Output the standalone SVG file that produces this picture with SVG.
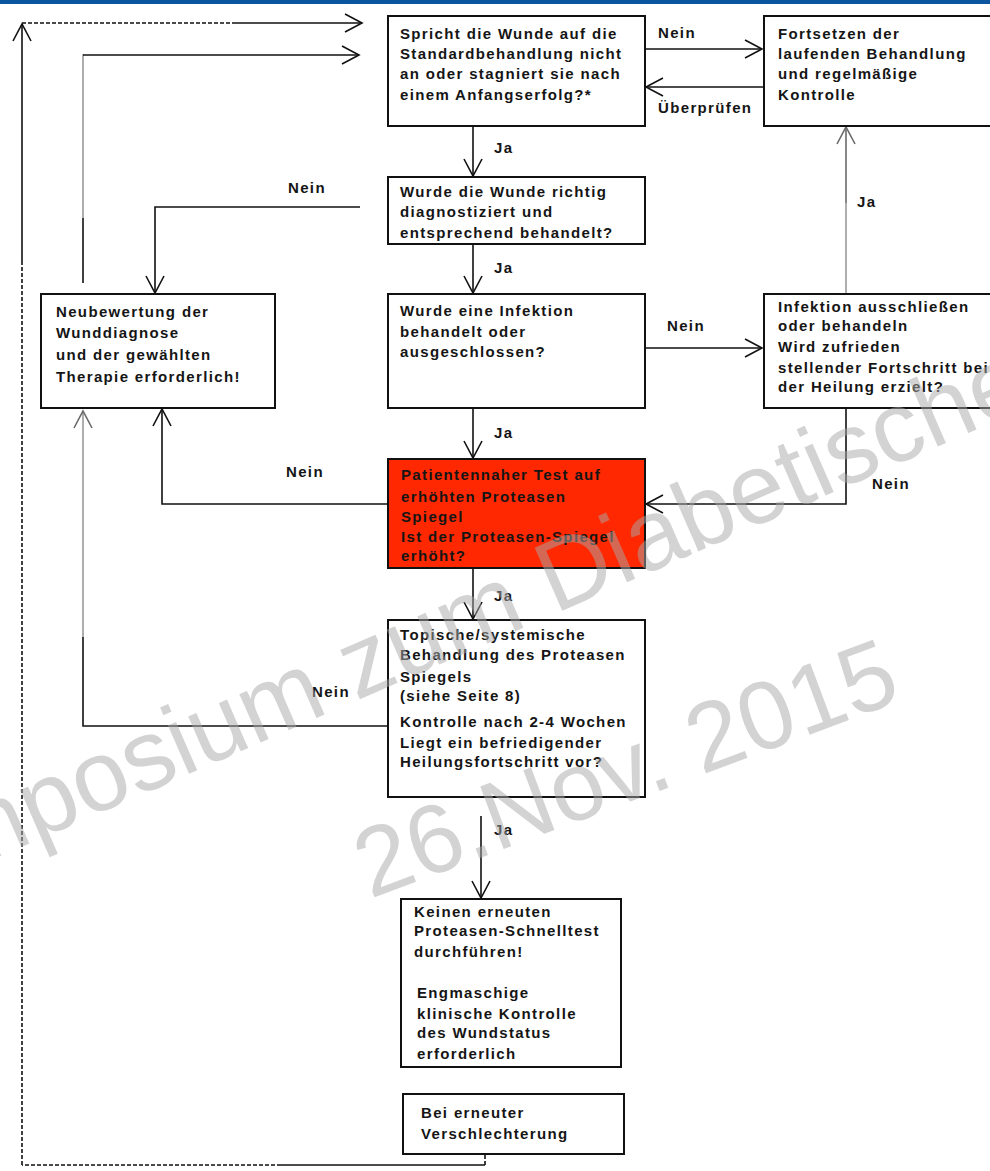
<svg xmlns="http://www.w3.org/2000/svg" width="990" height="1171" viewBox="0 0 990 1171">
  <style>
    .box { fill: #ffffff; stroke: #111111; stroke-width: 2; }
    .hot { fill: #ff2800; }
    .t { font-family: "Liberation Sans", Arial, sans-serif; font-weight: bold; font-size: 15px; letter-spacing: 1.35px; fill: #151515; }
    .ln { fill: none; stroke: #111111; stroke-width: 1.6; }
    .grey { stroke: #9a9a9a; }
    .mid { stroke: #6a6a6a; }
    .dash { fill: none; stroke: #111111; stroke-width: 1.6; stroke-dasharray: 4 2; }
    .wm { font-family: "Liberation Sans", Arial, sans-serif; fill: #a8a8a8; fill-opacity: 0.5; }
  </style>
  <defs>
    <marker id="arr" markerUnits="userSpaceOnUse" markerWidth="22" markerHeight="22" viewBox="-19 -11 22 22" refX="0" refY="0" orient="auto">
      <path d="M-17,-9 L0,0 L-17,9" fill="none" stroke="#111111" stroke-width="1.6"/>
    </marker>
    <marker id="arrGrey" markerUnits="userSpaceOnUse" markerWidth="22" markerHeight="22" viewBox="-19 -11 22 22" refX="0" refY="0" orient="auto">
      <path d="M-17,-9 L0,0 L-17,9" fill="none" stroke="#6a6a6a" stroke-width="1.6"/>
    </marker>
  </defs>

  <rect x="0" y="0" width="990" height="4" fill="#0b559e"/>

  <!-- connectors -->
  <g id="connectors">
    <!-- Spricht -> Fortsetzen (Nein) and back (Überprüfen) -->
    <line class="ln" x1="645" y1="49" x2="762" y2="49" marker-end="url(#arr)"/>
    <line class="ln" x1="764" y1="87" x2="646" y2="87" marker-end="url(#arr)"/>
    <!-- main column -->
    <line class="ln" x1="473" y1="126" x2="473" y2="176" marker-end="url(#arr)"/>
    <line class="ln" x1="473" y1="244" x2="473" y2="293" marker-end="url(#arr)"/>
    <line class="ln" x1="473" y1="408" x2="473" y2="458" marker-end="url(#arr)"/>
    <line class="ln" x1="473" y1="568" x2="473" y2="619" marker-end="url(#arr)"/>
    <line class="ln" x1="481" y1="816" x2="481" y2="898" marker-end="url(#arr)"/>
    <!-- Wurde ... richtig diagnostiziert -> Neubewertung (Nein) -->
    <polyline class="ln" points="360,207 155,207 155,293" marker-end="url(#arr)"/>
    <!-- Infektion -> Infektion ausschließen (Nein) -->
    <line class="ln" x1="645" y1="348" x2="762" y2="348" marker-end="url(#arr)"/>
    <!-- Infektion ausschließen -> Fortsetzen (Ja) -->
    <line class="ln grey" x1="846" y1="294" x2="846" y2="203"/>
    <line class="ln mid" x1="846" y1="203" x2="846" y2="127" marker-end="url(#arrGrey)"/>
    <!-- Infektion ausschließen -> Test (Nein) -->
    <polyline class="ln" points="846,372 846,504 646,504" marker-end="url(#arr)"/>
    <!-- Test -> Neubewertung (Nein) -->
    <polyline class="ln" points="387,504 162,504 162,409" marker-end="url(#arr)"/>
    <!-- Topische Behandlung -> Neubewertung (Nein) -->
    <polyline class="ln" points="387,726 83,726 83,637"/>
    <line class="ln grey" x1="83" y1="637" x2="83" y2="411" marker-end="url(#arrGrey)"/>
    <!-- Neubewertung -> Spricht -->
    <line class="ln" x1="83" y1="283" x2="83" y2="218"/>
    <polyline class="ln grey" points="83,218 83,55 84,55"/>
    <line class="ln" x1="83" y1="55" x2="359" y2="55" marker-end="url(#arr)"/>
    <!-- Bei erneuter Verschlechterung -> back to Spricht -->
    <line class="dash" x1="485" y1="1143" x2="485" y2="1165"/>
    <line class="ln" x1="485" y1="1165" x2="281" y2="1165"/>
    <line class="dash" x1="281" y1="1165" x2="22" y2="1165"/>
    <line class="dash" x1="22" y1="1165" x2="22" y2="262"/>
    <line class="ln" x1="22" y1="262" x2="22" y2="24" marker-end="url(#arr)"/>
    <line class="dash" x1="22" y1="23" x2="233" y2="23"/>
    <line class="ln" x1="233" y1="23" x2="362" y2="23" marker-end="url(#arr)"/>

    <!-- connector labels -->
    <text class="t" x="658" y="38">Nein</text>
    <text class="t" x="658" y="113">Überprüfen</text>
    <text class="t" x="494" y="153">Ja</text>
    <text class="t" x="494" y="273">Ja</text>
    <text class="t" x="288" y="193">Nein</text>
    <text class="t" x="667" y="331">Nein</text>
    <text class="t" x="857" y="207">Ja</text>
    <text class="t" x="494" y="438">Ja</text>
    <text class="t" x="286" y="477">Nein</text>
    <text class="t" x="872" y="489">Nein</text>
    <text class="t" x="494" y="601">Ja</text>
    <text class="t" x="312" y="697">Nein</text>
    <text class="t" x="494" y="835">Ja</text>
  </g>

  <!-- nodes -->
  <g id="spricht">
    <rect class="box" x="388" y="16" width="257" height="110"/>
    <text class="t" x="400" y="39">Spricht die Wunde auf die</text>
    <text class="t" x="400" y="59">Standardbehandlung nicht</text>
    <text class="t" x="400" y="79">an oder stagniert sie nach</text>
    <text class="t" x="400" y="100">einem Anfangserfolg?*</text>
  </g>

  <g id="fortsetzen">
    <rect class="box" x="764" y="16" width="232" height="110"/>
    <text class="t" x="778" y="39">Fortsetzen der</text>
    <text class="t" x="778" y="59">laufenden Behandlung</text>
    <text class="t" x="778" y="79">und regelmäßige</text>
    <text class="t" x="778" y="100">Kontrolle</text>
  </g>

  <g id="diagnose">
    <rect class="box" x="388" y="177" width="257" height="67"/>
    <text class="t" x="400" y="197">Wurde die Wunde richtig</text>
    <text class="t" x="400" y="217">diagnostiziert und</text>
    <text class="t" x="400" y="238">entsprechend behandelt?</text>
  </g>

  <g id="neubewertung">
    <rect class="box" x="41" y="294" width="234" height="114"/>
    <text class="t" x="56" y="317">Neubewertung der</text>
    <text class="t" x="56" y="338">Wunddiagnose</text>
    <text class="t" x="56" y="360">und der gewählten</text>
    <text class="t" x="56" y="382">Therapie erforderlich!</text>
  </g>

  <g id="infektion">
    <rect class="box" x="388" y="294" width="257" height="114"/>
    <text class="t" x="400" y="316">Wurde eine Infektion</text>
    <text class="t" x="400" y="337">behandelt oder</text>
    <text class="t" x="400" y="357">ausgeschlossen?</text>
  </g>

  <g id="infektion-ausschliessen">
    <rect class="box" x="764" y="294" width="232" height="114"/>
    <text class="t" x="778" y="312">Infektion ausschließen</text>
    <text class="t" x="778" y="331">oder behandeln</text>
    <text class="t" x="778" y="352">Wird zufrieden</text>
    <text class="t" x="778" y="373">stellender Fortschritt bei</text>
    <text class="t" x="778" y="392">der Heilung erzielt?</text>
  </g>

  <g id="proteasen-test">
    <rect class="box hot" x="388" y="459" width="257" height="109"/>
    <text class="t" x="401" y="480">Patientennaher Test auf</text>
    <text class="t" x="401" y="502">erhöhten Proteasen</text>
    <text class="t" x="401" y="522">Spiegel</text>
    <text class="t" x="401" y="542">Ist der Proteasen-Spiegel</text>
    <text class="t" x="401" y="561">erhöht?</text>
  </g>

  <g id="behandlung">
    <rect class="box" x="388" y="620" width="257" height="177"/>
    <text class="t" x="400" y="640">Topische/systemische</text>
    <text class="t" x="400" y="660">Behandlung des Proteasen</text>
    <text class="t" x="400" y="682">Spiegels</text>
    <text class="t" x="400" y="701">(siehe Seite 8)</text>
    <text class="t" x="400" y="727">Kontrolle nach 2-4 Wochen</text>
    <text class="t" x="400" y="748">Liegt ein befriedigender</text>
    <text class="t" x="400" y="767">Heilungsfortschritt vor?</text>
  </g>

  <g id="kein-test">
    <rect class="box" x="401" y="899" width="220" height="168"/>
    <text class="t" x="414" y="917">Keinen erneuten</text>
    <text class="t" x="414" y="936">Proteasen-Schnelltest</text>
    <text class="t" x="414" y="957">durchführen!</text>
    <text class="t" x="417" y="998">Engmaschige</text>
    <text class="t" x="417" y="1019">klinische Kontrolle</text>
    <text class="t" x="417" y="1038">des Wundstatus</text>
    <text class="t" x="417" y="1059">erforderlich</text>
  </g>

  <g id="verschlechterung">
    <rect class="box" x="403" y="1094" width="221" height="60"/>
    <text class="t" x="421" y="1118">Bei erneuter</text>
    <text class="t" x="421" y="1139">Verschlechterung</text>
  </g>

  <!-- watermark -->
  <g id="watermark">
    <text class="wm" font-size="100" transform="translate(-148,921) rotate(-23.6)">Symposium zum Diabetischen</text>
    <text class="wm" font-size="97" transform="translate(370,899) rotate(-20.5)">26.Nov. 2015</text>
  </g>
</svg>
